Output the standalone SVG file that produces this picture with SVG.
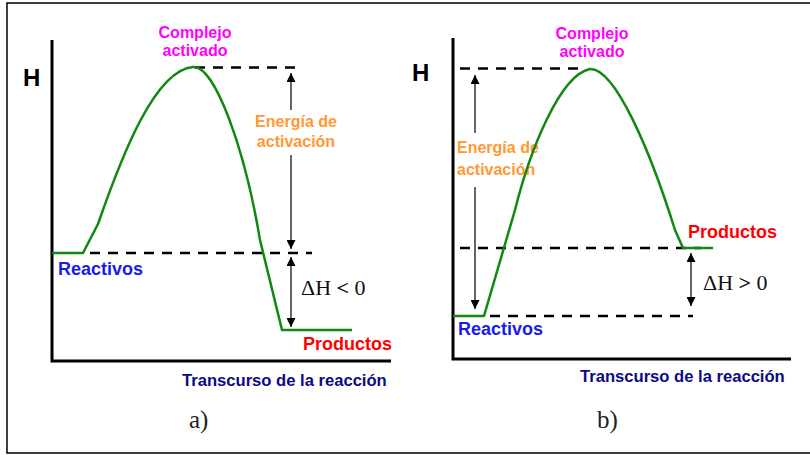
<svg xmlns="http://www.w3.org/2000/svg" width="810" height="455" viewBox="0 0 810 455">
<style>
.lbl{font-family:"Liberation Sans",Arial,sans-serif;font-weight:bold}
.axis{stroke:#000;stroke-width:3;fill:none}
.dash{stroke:#000;stroke-width:2.5;stroke-dasharray:10 8;fill:none}
.curve{stroke:#118811;stroke-width:2.5;fill:none;stroke-linejoin:round}
.arr{stroke:#000;stroke-width:1.2;fill:none}
.cx{fill:#ff00ff;font-size:16px}
.ea{fill:#ff9933;font-size:16px}
.re{fill:#1a1aee;font-size:18px}
.pr{fill:#ff0000;font-size:18px}
.tr{fill:#0a0a88;font-size:16.6px}
.h{fill:#000;font-size:24px}
.dh{font-family:"Liberation Serif","Times New Roman",serif;font-size:22px;fill:#111}
.cap{font-family:"Liberation Serif","Times New Roman",serif;font-size:25px;fill:#222}
</style>
<defs>
<marker id="ah" viewBox="0 0 10 10" refX="10" refY="5" markerWidth="9" markerHeight="9" markerUnits="userSpaceOnUse" orient="auto">
<path d="M0,0 L10,5 L0,10 z" fill="#000"/>
</marker>
</defs>
<path d="M810,3 H7 V453 H810" stroke="#000" stroke-width="1.5" fill="none"/>

<g id="panel-a">
<g id="a-axes">
<path class="axis" d="M52,40 V361 H391"/>
<text class="lbl h" x="23" y="86">H</text>
</g>
<g id="a-labels">
<text class="lbl cx" x="195" y="38" text-anchor="middle">Complejo</text>
<text class="lbl cx" x="195" y="56" text-anchor="middle">activado</text>
<text class="lbl ea" x="296" y="127" text-anchor="middle">Energía de</text>
<text class="lbl ea" x="296" y="147" text-anchor="middle">activación</text>
<text class="lbl re" x="58" y="275">Reactivos</text>
<text class="lbl pr" x="303" y="350">Productos</text>
<text class="lbl tr" x="182" y="386">Transcurso de la reacción</text>
<text class="dh" x="301" y="295">ΔH <tspan font-weight="bold">&lt;</tspan> 0</text>
<text class="cap" x="189" y="428">a)</text>
</g>
<g id="a-connectors">
<path class="dash" d="M195,67.5 H300"/>
<path class="dash" d="M90,253 H312"/>
<path class="arr" d="M291,110 V73" marker-end="url(#ah)"/>
<path class="arr" d="M291,155 V249" marker-end="url(#ah)"/>
<path class="arr" d="M291,290 V257" marker-end="url(#ah)"/>
<path class="arr" d="M291,290 V327" marker-end="url(#ah)"/>
</g>
<g id="a-curve">
<path class="curve" d="M52,253 H83 L98,224 C122,155 155,70 193,67 C215,65 245,150 260,240 L282,330 H352"/>
</g>
</g>

<g id="panel-b">
<g id="b-axes">
<path class="axis" d="M453,38 V359 H791"/>
<text class="lbl h" x="412" y="81">H</text>
</g>
<g id="b-labels">
<text class="lbl cx" x="592" y="39" text-anchor="middle">Complejo</text>
<text class="lbl cx" x="592" y="57" text-anchor="middle">activado</text>
<text class="lbl ea" x="457" y="153">Energía de</text>
<text class="lbl ea" x="457" y="175">activación</text>
<text class="lbl re" x="458" y="335">Reactivos</text>
<text class="lbl pr" x="688" y="238">Productos</text>
<text class="lbl tr" x="580" y="382">Transcurso de la reacción</text>
<text class="dh" x="703" y="290">ΔH <tspan font-weight="bold">&gt;</tspan> 0</text>
<text class="cap" x="597" y="428">b)</text>
</g>
<g id="b-connectors">
<path class="dash" d="M460,68.5 H586"/>
<path class="dash" d="M490,316 H693"/>
<path class="dash" d="M460,248 H701"/>
<path class="arr" d="M475,133 V75" marker-end="url(#ah)"/>
<path class="arr" d="M475,187 V309" marker-end="url(#ah)"/>
<path class="arr" d="M691,280 V253" marker-end="url(#ah)"/>
<path class="arr" d="M691,280 V306" marker-end="url(#ah)"/>
</g>
<g id="b-curve">
<path class="curve" d="M453,316 H484 L515,210 C530,150 560,75 590,69 C615,68 650,150 675,230 L683,248 H713"/>
</g>
</g>
</svg>
